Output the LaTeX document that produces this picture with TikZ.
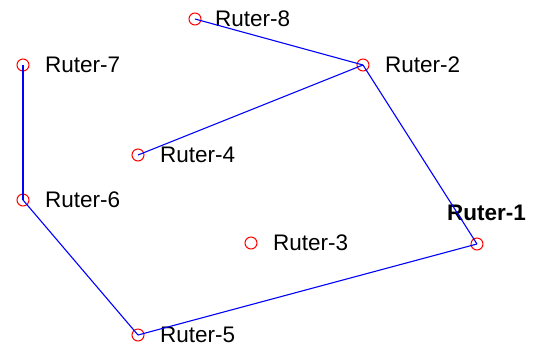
\documentclass[tikz,border=0pt]{standalone}
\usepackage{fontspec}
\setmainfont{Liberation Sans}
\begin{document}
\begin{tikzpicture}[x=1pt,y=-1pt,
  router/.style={circle,draw=red,line width=1pt,minimum size=12pt,inner sep=0pt},
  lbl/.style={anchor=west,inner sep=0pt,font=\fontsize{22.5}{25}\selectfont},
  link/.style={draw=blue,line width=1.1pt}]
\useasboundingbox (0,0) rectangle (537,346);
\node[router] (r8) at (195,19) {};
\node[router] (r2) at (363,65) {};
\node[router] (r7) at (23,65) {};
\node[router] (r4) at (138,155) {};
\node[router] (r6) at (23,200) {};
\node[router] (r3) at (251,243) {};
\node[router] (r1) at (477,244) {};
\node[router] (r5) at (138,335) {};
\node[lbl] (l8) at (215,19) {Ruter-8};
\node[lbl] (l2) at (385,65) {Ruter-2};
\node[lbl] (l7) at (45,65) {Ruter-7};
\node[lbl] (l4) at (160,155) {Ruter-4};
\node[lbl] (l6) at (45,200) {Ruter-6};
\node[lbl] (l3) at (273,243) {Ruter-3};
\node[lbl] (l5) at (160,335) {Ruter-5};
\node[lbl,font=\fontsize{22.5}{25}\selectfont\bfseries] (l1) at (447,213) {Ruter-1};
\draw[link] (r8.center) -- (r2.center);
\draw[link] (r2.center) -- (r4.center);
\draw[link] (r2.center) -- (r1.center);
\draw[link] (r7.center) -- (r6.center);
\draw[link] (r6.center) -- (r5.center);
\draw[link] (r5.center) -- (r1.center);
\end{tikzpicture}
\end{document}
